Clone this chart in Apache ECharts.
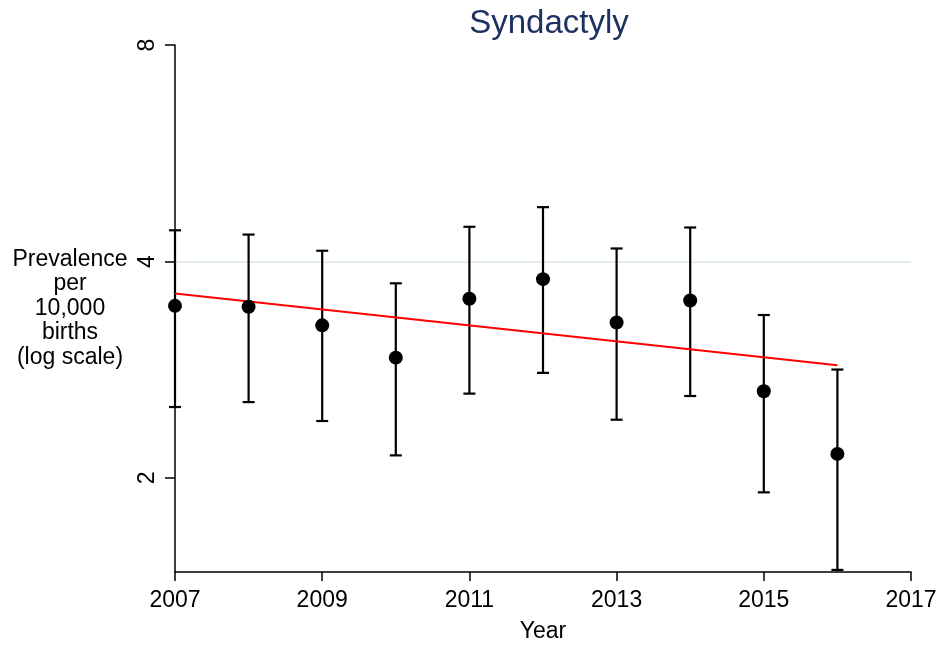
<!DOCTYPE html>
<html>
<head>
<meta charset="utf-8">
<script src="https://cdn.jsdelivr.net/npm/echarts@6/dist/echarts.min.js"></script>
<style>
html,body{margin:0;padding:0;background:#fff;}
#chart{width:941px;height:646px;}
</style>
</head>
<body>
<div id="chart"></div>
<script>
const years = [2007, 2008, 2009, 2010, 2011, 2012, 2013, 2014, 2015, 2016];
const prevalence = [3.47, 3.46, 3.26, 2.94, 3.55, 3.78, 3.29, 3.53, 2.64, 2.16];
const lowerCI = [2.51, 2.55, 2.40, 2.15, 2.62, 2.80, 2.41, 2.60, 1.91, 1.49];
const upperCI = [4.42, 4.36, 4.14, 3.73, 4.47, 4.76, 4.17, 4.46, 3.37, 2.83];
const trendYears = [2007, 2016];
const trendValues = [3.61, 2.87];
const yTicks = [2, 4, 8];
const xTicks = [2007, 2009, 2011, 2013, 2015, 2017];

const FONT = '"Liberation Sans", Arial, sans-serif';
const chart = echarts.init(document.getElementById('chart'));

const errData = years.map((y, i) => [y, lowerCI[i], upperCI[i]]);
const pointData = years.map((y, i) => [y, prevalence[i]]);
const trendData = trendYears.map((y, i) => [y, trendValues[i]]);

chart.setOption({
  animation: false,
  backgroundColor: '#ffffff',
  title: {
    text: 'Syndactyly',
    left: 544,
    top: 2,
    textAlign: 'center',
    textStyle: { fontFamily: FONT, fontSize: 33, fontWeight: 'normal', color: '#1e3160' }
  },
  grid: { left: 175, right: 30, top: 45, bottom: 74, containLabel: false, outerBoundsMode: 'none' },
  xAxis: {
    type: 'value',
    min: 2007,
    max: 2017,
    interval: 2,
    name: 'Year',
    nameLocation: 'middle',
    nameGap: 48,
    nameTextStyle: { fontFamily: FONT, fontSize: 23, color: '#000' },
    axisLine: { show: true, lineStyle: { color: '#000', width: 1.5 } },
    axisTick: { show: true, length: 9, customValues: xTicks, lineStyle: { color: '#000', width: 1.5 } },
    axisLabel: { fontFamily: FONT, fontSize: 23, color: '#000', margin: 17, customValues: xTicks, formatter: v => String(v) },
    splitLine: { show: false }
  },
  yAxis: {
    type: 'log',
    logBase: 2,
    min: 1.48,
    max: 8,
    name: 'Prevalence\nper\n10,000\nbirths\n(log scale)',
    nameLocation: 'middle',
    nameRotate: 0,
    nameGap: 105,
    nameTextStyle: { fontFamily: FONT, fontSize: 23, color: '#000', align: 'center', verticalAlign: 'middle', lineHeight: 24.5 },
    axisLine: { show: true, lineStyle: { color: '#000', width: 1.5 } },
    axisTick: { show: true, length: 10, customValues: yTicks, lineStyle: { color: '#000', width: 1.5 } },
    axisLabel: { fontFamily: FONT, fontSize: 23, color: '#000', rotate: 90, margin: 16, customValues: yTicks, formatter: v => String(Math.round(v)) },
    splitLine: { show: true, showMaxLine: false, showMinLine: false, lineStyle: { color: '#e3ecf1', width: 2 } }
  },
  series: [
    {
      type: 'custom',
      z: 1,
      data: errData,
      encode: { x: 0, y: [1, 2] },
      renderItem: function (params, api) {
        const x = api.value(0);
        const lo = api.coord([x, api.value(1)]);
        const hi = api.coord([x, api.value(2)]);
        const hw = 6;
        const style = { stroke: '#000', lineWidth: 2.2 };
        return {
          type: 'group',
          children: [
            { type: 'line', shape: { x1: lo[0], y1: lo[1], x2: hi[0], y2: hi[1] }, style: style },
            { type: 'line', shape: { x1: lo[0] - hw, y1: lo[1], x2: lo[0] + hw, y2: lo[1] }, style: style },
            { type: 'line', shape: { x1: hi[0] - hw, y1: hi[1], x2: hi[0] + hw, y2: hi[1] }, style: style }
          ]
        };
      }
    },
    {
      type: 'line',
      z: 2,
      data: trendData,
      symbol: 'none',
      lineStyle: { color: '#ff0000', width: 2 }
    },
    {
      type: 'scatter',
      z: 3,
      data: pointData,
      symbol: 'circle',
      symbolSize: 14,
      itemStyle: { color: '#000', opacity: 1 }
    }
  ]
});
</script>
</body>
</html>
